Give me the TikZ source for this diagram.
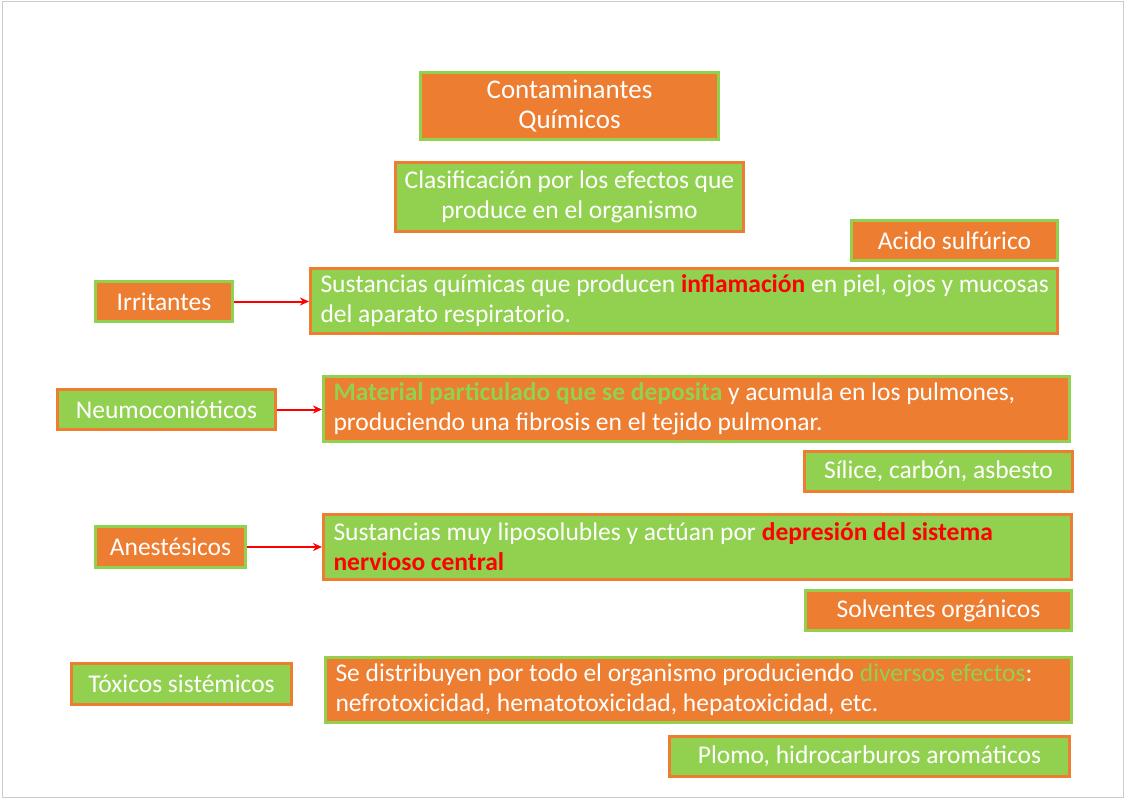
\documentclass[tikz,border=0pt]{standalone}
\usepackage{fontspec}
\setmainfont{Carlito}
\usetikzlibrary{arrows.meta}

\definecolor{naranja}{HTML}{ED7D31}
\definecolor{verde}{HTML}{92D050}
\definecolor{rojo}{HTML}{FF0000}

\tikzset{
  caja/.style={line width=3pt, inner sep=0pt, text=white, align=center,
    font=\fontsize{25.5}{30}\selectfont},
  cajan/.style={caja, fill=naranja, draw=verde},
  cajav/.style={caja, fill=verde, draw=naranja},
  desc/.style={align=flush left, inner xsep=10pt},
  flecha/.style={-{Stealth[length=9pt,width=8pt]}, rojo, line width=2pt}
}

\begin{document}
\begin{tikzpicture}[x=1pt,y=-1pt]
\useasboundingbox (0,0) rectangle (1128,800);
\draw [black!20, line width=1pt] (2,2) rectangle (1123,797);

% titulo
\node [cajan, font=\fontsize{27}{30}\selectfont, minimum width=298, minimum height=67] (titulo) at (569.5,106) {Contaminantes\\Químicos};
\node [cajav, minimum width=348, minimum height=69] (clasif) at (569.5,197) {Clasificación por los efectos que\\produce en el organismo};

% irritantes
\node [cajan, minimum width=206, minimum height=40] (acido) at (954.5,240.5) {Acido sulfúrico};
\node [cajan, minimum width=137, minimum height=40] (irr) at (164,301.5) {Irritantes};
\node [cajav, desc, text width=727, minimum height=65] (irrdesc) at (684,301)
  {\mbox{Sustancias químicas que producen \textcolor{rojo}{\textbf{inflamación}} en piel, ojos y mucosas}\\del aparato respiratorio.};
\draw [flecha] (irr.east) -- (irr.east -| irrdesc.west);

% neumoconioticos
\node [cajav, minimum width=218, minimum height=40] (neumo) at (166.5,409.5) {Neumoconióticos};
\node [cajan, desc, text width=726, minimum height=65] (neumodesc) at (696.5,409)
  {\mbox{\textcolor{verde}{\textbf{Material particulado que se deposita}} y acumula en los pulmones,}\\produciendo una fibrosis en el tejido pulmonar.};
\node [cajav, minimum width=268, minimum height=40] (silice) at (938.5,471.5) {Sílice, carbón, asbesto};
\draw [flecha] (neumo.east) -- (neumo.east -| neumodesc.west);

% anestesicos
\node [cajan, minimum width=150, minimum height=41] (anest) at (170.5,547) {Anestésicos};
\node [cajav, desc, text width=728, minimum height=65] (anestdesc) at (697.5,547)
  {\mbox{Sustancias muy liposolubles y actúan por \textcolor{rojo}{\textbf{depresión del sistema}}}\\\textcolor{rojo}{\textbf{nervioso central}}};
\node [cajan, minimum width=266, minimum height=40] (solv) at (938.5,610.5) {Solventes orgánicos};
\draw [flecha] (anest.east) -- (anest.east -| anestdesc.west);

% toxicos sistemicos
\node [cajav, minimum width=220, minimum height=41] (toxicos) at (181.5,684) {Tóxicos sistémicos};
\node [cajan, desc, text width=726, minimum height=65] (toxdesc) at (698.5,690)
  {\mbox{Se distribuyen por todo el organismo produciendo \textcolor{verde}{diversos efectos}:}\\nefrotoxicidad, hematotoxicidad, hepatoxicidad, etc.};
\node [cajav, minimum width=400, minimum height=40] (plomo) at (869.5,756.5) {Plomo, hidrocarburos aromáticos};

\end{tikzpicture}
\end{document}
